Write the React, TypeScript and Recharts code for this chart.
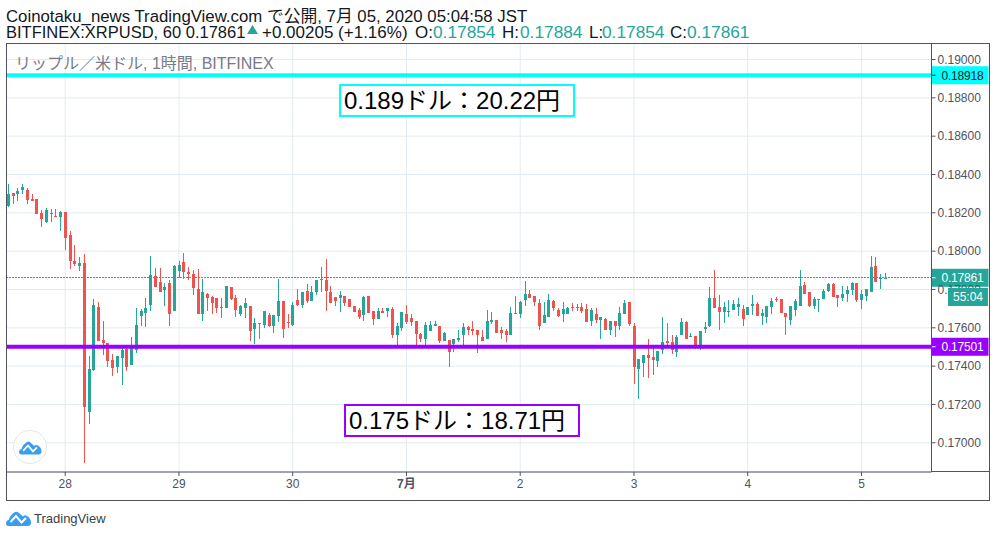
import React from "react";
import { ComposedChart, Bar, XAxis, YAxis, CartesianGrid, ReferenceLine } from "recharts";

const opens = [
  0.18234, 0.18306, 0.18297, 0.18318, 0.18318, 0.18271, 0.18271, 0.18198, 0.18151, 0.18198, 0.18186, 0.18177,
  0.18203, 0.18083, 0.17947, 0.17921, 0.17937, 0.17163, 0.17378, 0.17707, 0.17534, 0.17519, 0.1743, 0.17393,
  0.17445, 0.17487, 0.17404, 0.17482, 0.1766, 0.17675, 0.17717, 0.17869, 0.17837, 0.17796, 0.17832, 0.17686,
  0.17895, 0.17942, 0.1789, 0.17879, 0.17801, 0.1767, 0.17775, 0.17759, 0.17754, 0.17707, 0.17701, 0.17814,
  0.17756, 0.17672, 0.17704, 0.17714, 0.17593, 0.17625, 0.17614, 0.17667, 0.17609, 0.17661, 0.1774, 0.1763,
  0.17614, 0.17746, 0.17719, 0.17793, 0.1774, 0.17788, 0.17847, 0.17851, 0.17788, 0.17761, 0.17756, 0.17767,
  0.17751, 0.17714, 0.17693, 0.17667, 0.17767, 0.17688, 0.17646, 0.17688, 0.17688, 0.17698, 0.17561, 0.17598,
  0.17672, 0.17651, 0.17635, 0.17567, 0.1754, 0.17582, 0.17609, 0.17609, 0.1753, 0.17535, 0.17514, 0.17535,
  0.17565, 0.17602, 0.17596, 0.17586, 0.17554, 0.17539, 0.17628, 0.17639, 0.17586, 0.17581, 0.1756, 0.17675,
  0.1767, 0.17744, 0.17775, 0.17765, 0.17728, 0.17623, 0.17654, 0.17739, 0.17691, 0.1767, 0.1767, 0.17707,
  0.17702, 0.17707, 0.17696, 0.17633, 0.1767, 0.17639, 0.17644, 0.17591, 0.17633, 0.17607, 0.1767, 0.17733,
  0.17612, 0.17386, 0.17418, 0.1746, 0.17449, 0.17428, 0.17486, 0.17533, 0.17528, 0.17475, 0.1756, 0.17628,
  0.17551, 0.17556, 0.175, 0.17593, 0.17607, 0.17756, 0.17709, 0.17682, 0.17682, 0.17693, 0.17709, 0.17698,
  0.17667, 0.17714, 0.17725, 0.17661, 0.17656, 0.17709, 0.17751, 0.17751, 0.17677, 0.1764, 0.17693, 0.17714,
  0.17825, 0.17788, 0.17714, 0.17746, 0.17751, 0.17793, 0.1783, 0.17772, 0.17756, 0.17777, 0.17798, 0.17835,
  0.17746, 0.17767, 0.17788, 0.17925, 0.17853, 0.17854,
];
const highs = [
  0.18353, 0.18306, 0.18332, 0.18353, 0.18327, 0.18297, 0.18271, 0.18214, 0.18224, 0.18219, 0.18219, 0.18208,
  0.18203, 0.18104, 0.18031, 0.17968, 0.17984, 0.17451, 0.17748, 0.17733, 0.17634, 0.17519, 0.17461, 0.17451,
  0.17492, 0.17492, 0.1755, 0.17701, 0.17696, 0.17754, 0.17973, 0.1791, 0.1791, 0.17832, 0.17848, 0.17926,
  0.17947, 0.17989, 0.17916, 0.179, 0.17905, 0.17853, 0.1778, 0.17764, 0.17754, 0.17754, 0.17816, 0.17814,
  0.17772, 0.17719, 0.17756, 0.17714, 0.17651, 0.17625, 0.17688, 0.17677, 0.17667, 0.17856, 0.1774, 0.17672,
  0.17737, 0.17804, 0.17788, 0.1783, 0.17819, 0.17851, 0.17919, 0.17961, 0.17819, 0.17761, 0.17793, 0.17767,
  0.17751, 0.17714, 0.17704, 0.17767, 0.17767, 0.17688, 0.17704, 0.17704, 0.17704, 0.17709, 0.17625, 0.17682,
  0.17719, 0.17672, 0.17635, 0.17572, 0.1763, 0.17635, 0.17635, 0.17609, 0.17577, 0.17535, 0.1754, 0.17588,
  0.17623, 0.17612, 0.17633, 0.17586, 0.17591, 0.17691, 0.17681, 0.17642, 0.17602, 0.17596, 0.17707, 0.17765,
  0.17739, 0.17844, 0.17796, 0.17765, 0.17749, 0.17733, 0.17775, 0.17744, 0.17702, 0.17733, 0.17707, 0.17728,
  0.17723, 0.17728, 0.17723, 0.17702, 0.17702, 0.17654, 0.17649, 0.17633, 0.17633, 0.17707, 0.17744, 0.17733,
  0.17623, 0.17439, 0.1746, 0.17539, 0.1751, 0.17481, 0.17654, 0.17623, 0.17565, 0.17565, 0.17649, 0.17633,
  0.17572, 0.17556, 0.17582, 0.1763, 0.17814, 0.17904, 0.17772, 0.17735, 0.17746, 0.17746, 0.17756, 0.17719,
  0.17709, 0.17772, 0.17735, 0.17698, 0.17714, 0.17756, 0.17761, 0.17751, 0.17677, 0.17714, 0.17751, 0.17904,
  0.1784, 0.17788, 0.17761, 0.17751, 0.17804, 0.17835, 0.17835, 0.17772, 0.17819, 0.17819, 0.17837, 0.17835,
  0.17798, 0.17804, 0.17977, 0.17972, 0.17882, 0.17884,
];
const lows = [
  0.18231, 0.18245, 0.18262, 0.18297, 0.18245, 0.18261, 0.18193, 0.18125, 0.18146, 0.18151, 0.18177, 0.18104,
  0.18005, 0.17905, 0.17921, 0.17895, 0.16897, 0.171, 0.17372, 0.17529, 0.17456, 0.17393, 0.17346, 0.17362,
  0.17299, 0.17377, 0.17404, 0.17466, 0.17607, 0.17602, 0.17686, 0.17811, 0.17785, 0.17712, 0.17607, 0.17686,
  0.17858, 0.17853, 0.17848, 0.17769, 0.1767, 0.17634, 0.17686, 0.1767, 0.17675, 0.17649, 0.17701, 0.17746,
  0.17656, 0.17661, 0.17651, 0.1753, 0.17514, 0.1754, 0.17598, 0.17604, 0.17572, 0.1763, 0.17546, 0.17598,
  0.17609, 0.17714, 0.17702, 0.1773, 0.1774, 0.17772, 0.17788, 0.17688, 0.1773, 0.17714, 0.17682, 0.17714,
  0.17709, 0.17682, 0.17646, 0.17635, 0.17677, 0.17614, 0.17646, 0.17677, 0.17656, 0.17546, 0.17509, 0.17582,
  0.17619, 0.17609, 0.17509, 0.17525, 0.17509, 0.17582, 0.17609, 0.17519, 0.1753, 0.17398, 0.17472, 0.17525,
  0.17512, 0.17565, 0.17565, 0.1747, 0.17533, 0.17539, 0.17618, 0.17575, 0.17544, 0.17528, 0.1756, 0.1767,
  0.17649, 0.17712, 0.17754, 0.17712, 0.17591, 0.17623, 0.17654, 0.17686, 0.17654, 0.17628, 0.1767, 0.17686,
  0.17686, 0.17675, 0.17628, 0.17612, 0.17623, 0.17544, 0.17591, 0.17565, 0.17554, 0.17591, 0.1767, 0.17607,
  0.17307, 0.17228, 0.17344, 0.17339, 0.17354, 0.17396, 0.17465, 0.17507, 0.17465, 0.17449, 0.1756, 0.17539,
  0.17551, 0.17488, 0.17482, 0.17572, 0.17604, 0.17704, 0.17588, 0.17625, 0.17656, 0.17693, 0.17661, 0.17609,
  0.17667, 0.17667, 0.17661, 0.17614, 0.17625, 0.17672, 0.17735, 0.17677, 0.17561, 0.17614, 0.17661, 0.17714,
  0.17777, 0.17709, 0.17698, 0.17682, 0.17751, 0.17788, 0.17761, 0.17709, 0.1774, 0.17735, 0.17772, 0.17735,
  0.17698, 0.1774, 0.17788, 0.1784, 0.17804, 0.17854,
];
const closes = [
  0.18297, 0.18287, 0.18313, 0.18334, 0.18266, 0.18261, 0.18193, 0.18167, 0.18214, 0.18193, 0.18177, 0.18203,
  0.18067, 0.17947, 0.17931, 0.17937, 0.17189, 0.17383, 0.17717, 0.17529, 0.17519, 0.17425, 0.17388, 0.17451,
  0.17482, 0.17393, 0.17498, 0.17613, 0.17686, 0.17701, 0.17874, 0.17811, 0.17785, 0.17811, 0.1767, 0.17921,
  0.17926, 0.1789, 0.17879, 0.17806, 0.1767, 0.17785, 0.17754, 0.17728, 0.17701, 0.17701, 0.17816, 0.17751,
  0.17693, 0.17714, 0.1773, 0.17582, 0.17625, 0.17619, 0.17688, 0.17607, 0.17667, 0.1774, 0.17593, 0.17625,
  0.17719, 0.17719, 0.17788, 0.1774, 0.17788, 0.17851, 0.17853, 0.17793, 0.1773, 0.1774, 0.17772, 0.1773,
  0.17709, 0.17682, 0.17656, 0.17761, 0.17677, 0.17646, 0.17688, 0.17677, 0.17704, 0.17561, 0.17609, 0.17682,
  0.1763, 0.1763, 0.17567, 0.1754, 0.17614, 0.17614, 0.17619, 0.1753, 0.17572, 0.17472, 0.1754, 0.17546,
  0.17602, 0.17591, 0.17581, 0.17565, 0.17533, 0.17633, 0.17639, 0.17575, 0.17575, 0.1756, 0.17675, 0.1767,
  0.17733, 0.17775, 0.17754, 0.17733, 0.17607, 0.17665, 0.17744, 0.17702, 0.1766, 0.17696, 0.17702, 0.17702,
  0.17707, 0.17686, 0.17628, 0.17691, 0.17639, 0.17654, 0.17591, 0.17633, 0.17607, 0.17675, 0.17728, 0.17618,
  0.17396, 0.17439, 0.1746, 0.17444, 0.17433, 0.17481, 0.17528, 0.17523, 0.17486, 0.17554, 0.17628, 0.17544,
  0.17556, 0.17493, 0.17582, 0.17604, 0.17756, 0.17704, 0.17682, 0.17709, 0.17688, 0.17725, 0.17725, 0.17646,
  0.17709, 0.17725, 0.17661, 0.17677, 0.17714, 0.1774, 0.17746, 0.17677, 0.17656, 0.17714, 0.1774, 0.17819,
  0.17777, 0.17714, 0.17751, 0.17751, 0.17793, 0.1783, 0.17761, 0.17756, 0.17777, 0.17798, 0.17833, 0.17746,
  0.17777, 0.17804, 0.17919, 0.1784, 0.1786, 0.17861,
];

const priceTicks = [0.17, 0.172, 0.174, 0.176, 0.178, 0.18, 0.182, 0.184, 0.186, 0.188, 0.19];
const dayIndexes = [12, 36, 60, 84, 108, 132, 156, 180];
const dayLabels = ["28", "29", "30", "7月", "2", "3", "4", "5"];

const UP = "#26a69a";
const DOWN = "#ef5350";
const CYAN = "#00ffff";
const PURPLE = "#9900ff";
const AXIS = "#50535e";
const FONT = '"Liberation Sans", "Noto Sans CJK JP", sans-serif';

const rows = opens.map((open, i) => ({
  idx: i,
  open,
  close: closes[i],
  range: [lows[i], highs[i]],
}));

function Candle(props: any) {
  const { x, y, width, height, payload } = props;
  const top = Math.min(y, y + height);
  const h = Math.abs(height);
  const cx = Math.round(x + width / 2 - 0.5) + 0.5;
  // price -> pixel from the bar the scale gave us
  const perUnit = h / (payload.range[1] - payload.range[0]);
  const yOf = (p: number) => top + (payload.range[1] - p) * perUnit;
  const up = payload.close >= payload.open;
  const color = up ? UP : DOWN;
  const bodyTop = yOf(Math.max(payload.open, payload.close));
  const bodyH = Math.max(1, yOf(Math.min(payload.open, payload.close)) - bodyTop);
  return (
    <g shapeRendering="crispEdges">
      <rect x={cx - 0.5} y={top} width={1} height={h} fill={color} />
      <rect x={cx - 1.5} y={bodyTop} width={3} height={bodyH} fill={color} />
    </g>
  );
}

function DayTick(props: any) {
  const { x, y, payload } = props;
  const pos = dayIndexes.indexOf(payload.value);
  const label = dayLabels[pos];
  return (
    <text
      x={x}
      y={y + 10}
      textAnchor="middle"
      fontSize={12}
      fontFamily={FONT}
      fontWeight={label === "7月" ? 700 : 400}
      fill={AXIS}
    >
      {label}
    </text>
  );
}

function PriceTag({ viewBox, bg, fg, text }: any) {
  const x = viewBox.x + viewBox.width;
  const y = viewBox.y;
  return (
    <g>
      <rect x={x} y={y - 9} width={57} height={18} fill={bg} />
      <line x1={x} x2={x + 4} y1={y} y2={y} stroke={fg} />
      <text x={x + 10} y={y + 4.5} fontSize={12} fontFamily={FONT} fill={fg} letterSpacing={-0.2}>
        {text}
      </text>
    </g>
  );
}

function Cloud({ x, y, s }: { x: number; y: number; s: number }) {
  return (
    <svg style={{ position: "absolute", left: x, top: y }} width={25 * s} height={15 * s} viewBox="0 0 25 15">
      <path
        d="M0 12.5 Q0 9.5 3 8.5 Q4 4 9 1 Q11 0 13 2 L17 5.5 Q19 3.5 21 5 Q25 7.5 25 11.5 Q25 15 21.5 15 L2.5 15 Q0 15 0 12.5Z"
        fill="#3a9df0"
      />
      <path d="M4.5 11 L10 5 L15.5 11.5 L20 7" fill="none" stroke="#fff" strokeWidth={2} />
    </svg>
  );
}

const absText: React.CSSProperties = {
  position: "absolute",
  whiteSpace: "nowrap",
  fontFamily: FONT,
};

// second header line, each piece placed where the reference has it
function Quote({ left, color, size, children }: any) {
  return (
    <span style={{ ...absText, left, top: 24, fontSize: size, lineHeight: "17px", color }}>{children}</span>
  );
}

export default function App() {
  return (
    <div style={{ position: "absolute", left: 0, top: 0, width: 996, height: 537, background: "#fff", overflow: "hidden" }}>
      <div style={{ ...absText, left: 6, top: 8, fontSize: 16.8, lineHeight: "17px", color: "#131722" }}>
        Coinotaku_news TradingView.com で公開, 7月 05, 2020 05:04:58 JST
      </div>
      <Quote left={6} color="#131722" size={16.5}>BITFINEX:XRPUSD, 60 0.17861</Quote>
      <svg style={{ position: "absolute", left: 247, top: 25 }} width={11} height={9}>
        <path d="M5.5 0 L11 9 L0 9 Z" fill={UP} />
      </svg>
      <Quote left={262} color="#131722" size={17}>+0.00205 (+1.16%)</Quote>
      <Quote left={415} color="#131722" size={17}>O:</Quote>
      <Quote left={433} color={UP} size={17.3}>0.17854</Quote>
      <Quote left={502} color="#131722" size={17}>H:</Quote>
      <Quote left={520} color={UP} size={17.3}>0.17884</Quote>
      <Quote left={589} color="#131722" size={17}>L:</Quote>
      <Quote left={602} color={UP} size={17.3}>0.17854</Quote>
      <Quote left={670} color="#131722" size={17}>C:</Quote>
      <Quote left={687} color={UP} size={17.3}>0.17861</Quote>

      <ComposedChart
        width={996}
        height={537}
        data={rows}
        margin={{ top: 43.5, right: 7.5, bottom: 37, left: 6.5 }}
        style={{ position: "absolute", left: 0, top: 0 }}
      >
        <CartesianGrid stroke="#e1ecf2" strokeWidth={1} />
        <XAxis
          dataKey="idx"
          type="number"
          domain={[-0.38, 194.77]}
          ticks={dayIndexes}
          interval={0}
          height={28}
          stroke={AXIS}
          tickLine={{ stroke: AXIS }}
          tickSize={4}
          tick={<DayTick />}
        />
        <YAxis
          orientation="right"
          type="number"
          width={57}
          domain={[0.168475, 0.190836]}
          allowDataOverflow
          ticks={priceTicks}
          interval={0}
          stroke={AXIS}
          tickSize={4}
          tickFormatter={(v: number) => v.toFixed(5)}
          tick={{ fill: AXIS, fontSize: 12, fontFamily: FONT }}
        />
        <ReferenceLine
          y={0.17861}
          stroke={UP}
          strokeWidth={1}
          strokeDasharray="2 1"
          shapeRendering="crispEdges"
          label={(p: any) => <PriceTag viewBox={p.viewBox} bg={UP} fg="#fff" text="0.17861" />}
        />
        <Bar dataKey="range" barSize={3} shape={<Candle />} isAnimationActive={false} />
        <ReferenceLine
          y={0.18918}
          stroke={CYAN}
          strokeWidth={4}
          label={(p: any) => <PriceTag viewBox={p.viewBox} bg={CYAN} fg="#131722" text="0.18918" />}
        />
        <ReferenceLine
          y={0.17501}
          stroke={PURPLE}
          strokeWidth={4}
          label={(p: any) => <PriceTag viewBox={p.viewBox} bg={PURPLE} fg="#fff" text="0.17501" />}
        />
      </ComposedChart>

      {/* frame */}
      <div style={{ position: "absolute", left: 6, top: 43, width: 982, height: 456, border: `1px solid ${AXIS}` }} />
      <div style={{ position: "absolute", left: 931, top: 471, width: 58, height: 1, background: AXIS }} />

      <div style={{ ...absText, left: 948, top: 288, width: 40, height: 18, background: UP, color: "#fff", fontSize: 12, lineHeight: "19px", textAlign: "center" }}>
        55:04
      </div>

      <div style={{ ...absText, left: 15, top: 54, fontSize: 16, lineHeight: "19px", color: "#787b86" }}>
        リップル／米ドル, 1時間, BITFINEX
      </div>

      <div style={{ ...absText, left: 339, top: 84, width: 229, height: 29, border: `2px solid ${CYAN}`, background: "#fff", color: "#000", fontSize: 24, lineHeight: "30px", paddingLeft: 3 }}>
        0.189ドル：20.22円
      </div>
      <div style={{ ...absText, left: 344, top: 404, width: 229, height: 29, border: `2px solid ${PURPLE}`, background: "#fff", color: "#000", fontSize: 24, lineHeight: "30px", paddingLeft: 3 }}>
        0.175ドル：18.71円
      </div>

      <div style={{ position: "absolute", left: 13, top: 430, width: 32, height: 32, borderRadius: 17, border: "1px solid #e3e6ea", background: "#fff" }} />
      <Cloud x={19} y={441} s={0.9} />

      <Cloud x={6} y={511} s={1} />
      <div style={{ ...absText, left: 34, top: 511, fontSize: 13, lineHeight: "16px", color: "#3c4048" }}>TradingView</div>
    </div>
  );
}
